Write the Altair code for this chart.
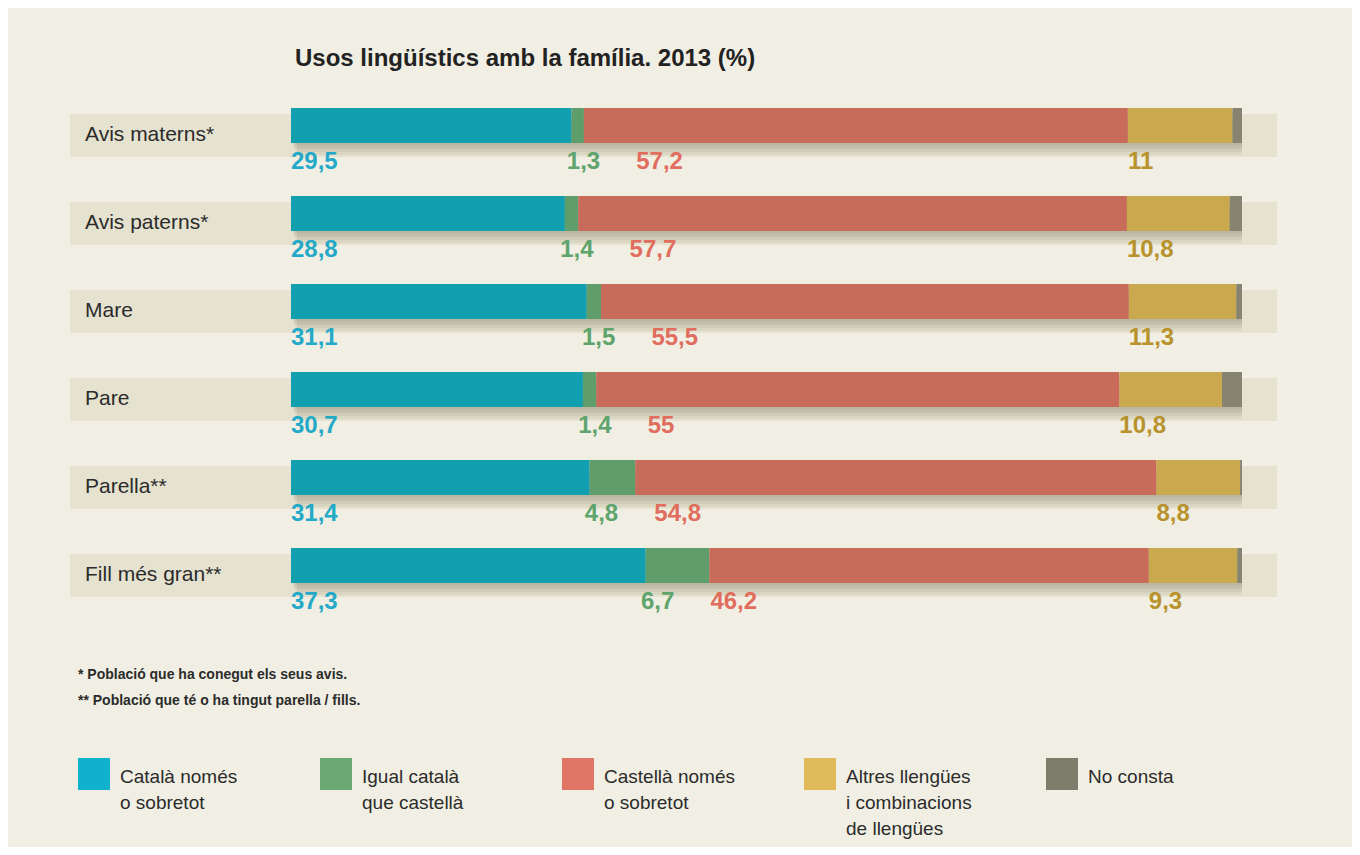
import altair as alt
import pandas as pd

# ---------------- data ----------------
rows = ["Avis materns*", "Avis paterns*", "Mare", "Pare", "Parella**", "Fill més gran**"]
cats = ["Català només o sobretot", "Igual català que castellà", "Castellà només o sobretot",
        "Altres llengües i combinacions de llengües", "No consta"]
legend_texts = ["Català només\no sobretot", "Igual català\nque castellà", "Castellà només\no sobretot",
                "Altres llengües\ni combinacions\nde llengües", "No consta"]

catala = [29.5, 28.8, 31.1, 30.7, 31.4, 37.3]
igual = [1.3, 1.4, 1.5, 1.4, 4.8, 6.7]
castella = [57.2, 57.7, 55.5, 55.0, 54.8, 46.2]
altres = [11.0, 10.8, 11.3, 10.8, 8.8, 9.3]
no_consta = [1.0, 1.3, 0.6, 2.1, 0.2, 0.5]

title_text = "Usos lingüístics amb la família. 2013 (%)"
footnotes = "* Població que ha conegut els seus avis.\n** Població que té o ha tingut parella / fills."

# ---------------- style ----------------
BG = "#f1efe3"
BAND = "#e5e2cf"
bar_colors = ["#12a0b1", "#5f9d6b", "#c96b5a", "#caa84e", "#86836f"]
label_colors = ["#25a9c8", "#5fa36d", "#e06d5e", "#b8922c", "#86836f"]
legend_colors = ["#10b0cf", "#6aa874", "#e07565", "#e0ba58", "#7e7c6b"]
FONT = "'Liberation Sans Narrow', 'Liberation Sans', sans-serif"

# ---------------- tables ----------------
series = [catala, igual, castella, altres, no_consta]
bar_recs, lab_recs, tot_recs = [], [], []
for i, r in enumerate(rows):
    start = 0.0
    starts = []
    for j, c in enumerate(cats):
        v = series[j][i]
        starts.append(start)
        bar_recs.append({"row": r, "cat": c, "x0": start, "x1": start + v})
        start += v
    tot_recs.append({"row": r, "zero": 0.0, "tot": start})
    for j in range(4):
        v = series[j][i]
        if j == 1:
            lx = starts[1] - 0.5
        elif j == 2:
            lx = starts[1] + 6.8
        else:
            lx = starts[j]
        lab_recs.append({"row": r, "cat": cats[j], "lx": lx,
                         "txt": f"{v:g}".replace(".", ",")})

df_bars = pd.DataFrame(bar_recs)
df_lab = pd.DataFrame(lab_recs)
df_tot = pd.DataFrame(tot_recs)
df_rows = pd.DataFrame({"row": rows})
df_leg = pd.DataFrame({"cat": cats, "txt": legend_texts, "i": list(range(len(cats)))})

X_bar = alt.Scale(domain=[0, 100], range=[283, 1234])


def yband(top, bw):
    step = 88
    total = top + 5 * step + bw
    return alt.Scale(type="band", domain=rows, range=[top, total],
                     paddingInner=1 - bw / step, paddingOuter=0)


Y_bar = yband(100, 35)

band = alt.Chart(df_rows).mark_rect(color=BAND).encode(
    y=alt.Y("row:N", scale=yband(106, 43), axis=None),
    x=alt.value(62), x2=alt.value(1269))

shadows = []
for k in [3, 6, 9, 12]:
    shadows.append(alt.Chart(df_tot).mark_rect(color="#4e4c38", opacity=0.08, xOffset=k / 2).encode(
        y=alt.Y("row:N", scale=yband(100 + k, 35), axis=None),
        x=alt.X("zero:Q", scale=X_bar, axis=None),
        x2="tot:Q"))

bars = alt.Chart(df_bars).mark_rect().encode(
    y=alt.Y("row:N", scale=Y_bar, axis=None),
    x=alt.X("x0:Q", scale=X_bar, axis=None),
    x2="x1:Q",
    color=alt.Color("cat:N", scale=alt.Scale(domain=cats, range=bar_colors), legend=None))

vlabels = alt.Chart(df_lab).mark_text(align="left", baseline="middle", fontSize=24,
                                      fontWeight="bold", font=FONT, yOffset=36).encode(
    y=alt.Y("row:N", scale=Y_bar, axis=None),
    x=alt.X("lx:Q", scale=X_bar, axis=None),
    text="txt:N",
    color=alt.Color("cat:N", scale=alt.Scale(domain=cats, range=label_colors), legend=None))

rlabels = alt.Chart(df_rows).mark_text(align="left", baseline="middle", fontSize=21,
                                       font=FONT, color="#2b2b2b", yOffset=9).encode(
    y=alt.Y("row:N", scale=Y_bar, axis=None),
    x=alt.value(77),
    text="row:N")

title = alt.Chart(pd.DataFrame({"t": [title_text]})).mark_text(
    align="left", baseline="middle", fontSize=24, fontWeight="bold", font=FONT, color="#222222"
).encode(x=alt.value(287), y=alt.value(51), text="t:N")

notes = alt.Chart(pd.DataFrame({"t": [footnotes]})).mark_text(
    align="left", baseline="top", fontSize=14, fontWeight="bold", font=FONT, color="#2b2b2b",
    lineBreak="\n", lineHeight=26
).encode(x=alt.value(70), y=alt.value(660), text="t:N")

leg_base = alt.Chart(df_leg).transform_calculate(
    sx="70 + datum.i * 242", sx2="70 + datum.i * 242 + 32", tx="70 + datum.i * 242 + 42")

leg_shadow = leg_base.mark_rect(color="#4e4c38", opacity=0.12, xOffset=3, yOffset=5).encode(
    x=alt.X("sx:Q", scale=None), x2="sx2:Q", y=alt.value(750), y2=alt.value(782))
leg_sq = leg_base.mark_rect().encode(
    x=alt.X("sx:Q", scale=None), x2="sx2:Q", y=alt.value(750), y2=alt.value(782),
    color=alt.Color("cat:N", scale=alt.Scale(domain=cats, range=legend_colors), legend=None))
leg_txt = leg_base.mark_text(align="left", baseline="top", fontSize=19, font=FONT,
                             color="#2b2b2b", lineBreak="\n", lineHeight=26).encode(
    x=alt.X("tx:Q", scale=None), y=alt.value(760), text="txt:N")

chart = alt.layer(band, *shadows, bars, vlabels, rlabels, title, notes,
                  leg_shadow, leg_sq, leg_txt).resolve_scale(
    x="independent", y="independent", color="independent"
).properties(
    width=1344, height=839, padding=0, autosize="none", background=BG
).configure_view(strokeWidth=0, fill=BG)

chart.save("out.html", embed_options={"renderer": "svg", "actions": False})
